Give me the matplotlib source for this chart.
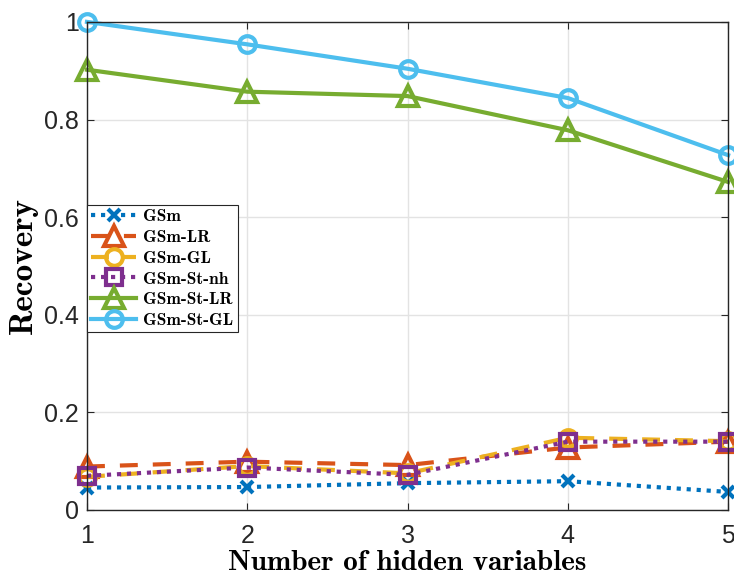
import matplotlib
matplotlib.use("Agg")
import matplotlib.pyplot as plt

# Recovery vs number of hidden variables
n_hidden = [1, 2, 3, 4, 5]
gsm = [0.046, 0.047, 0.055, 0.059, 0.037]
gsm_lr = [0.089, 0.099, 0.092, 0.128, 0.140]
gsm_gl = [0.068, 0.090, 0.075, 0.148, 0.141]
gsm_st_nh = [0.070, 0.087, 0.072, 0.140, 0.140]
gsm_st_lr = [0.902, 0.857, 0.848, 0.778, 0.672]
gsm_st_gl = [1.000, 0.954, 0.904, 0.844, 0.727]

labels = ["GSm", "GSm-LR", "GSm-GL", "GSm-St-nh", "GSm-St-LR", "GSm-St-GL"]
series = [gsm, gsm_lr, gsm_gl, gsm_st_nh, gsm_st_lr, gsm_st_gl]
colors = ["#0072BD", "#D95319", "#EDB120", "#7E2F8E", "#77AC30", "#4DBEEE"]
dashes = [(1, 1.4), (4.3, 3.6), (4.3, 3.6), (1, 1.4), None, None]
markers = ["x", "^", "o", "s", "^", "o"]
msizes = [9, 14, 12, 11, 14, 12]

plt.rcParams.update({"font.family": "Liberation Sans", "font.size": 18})

fig = plt.figure(figsize=(7.34, 5.76), dpi=100)
ax = fig.add_axes([0.1185, 0.1146, 0.8735, 0.8474])

for y, lab, c, d, m, ms in zip(series, labels, colors, dashes, markers, msizes):
    ln, = ax.plot(n_hidden, y, color=c, linewidth=3, marker=m,
                  markersize=ms, markerfacecolor="none", markeredgewidth=3,
                  label=lab, clip_on=False)
    if d is not None:
        ln.set_dashes(d)

ax.set_xlim(1, 5)
ax.set_ylim(0, 1)
ax.set_xticks([1, 2, 3, 4, 5])
ax.set_yticks([0, 0.2, 0.4, 0.6, 0.8, 1])
ax.set_yticklabels(["0", "0.2", "0.4", "0.6", "0.8", "1"])
ax.grid(True, color="#e3e3e3", linewidth=1)
ax.set_axisbelow(True)
ax.tick_params(direction="in", length=5, colors="#262626", labelsize=18,
               top=True, right=True)
ax.tick_params(axis="x", pad=10)
ax.tick_params(axis="y", pad=6)
for s in ax.spines.values():
    s.set_color("#262626")
    s.set_linewidth(1)

ax.set_xlabel("Number of hidden variables", family="cmb10", fontsize=21)
ax.xaxis.set_label_coords(0.5, -0.123)
ax.xaxis.label.set_va("baseline")
ax.set_ylabel("Recovery", family="cmb10", fontsize=24, labelpad=4)

leg = ax.legend(loc="upper left", bbox_to_anchor=(0.0, 0.625),
                prop={"family": "cmb10", "size": 12.5}, handlelength=2.6,
                handletextpad=0.4, labelspacing=0.32, borderpad=0.25,
                borderaxespad=0, fancybox=False, framealpha=1,
                edgecolor="#262626")
leg.get_frame().set_linewidth(0.8)

fig.savefig("out.png", dpi=100)
